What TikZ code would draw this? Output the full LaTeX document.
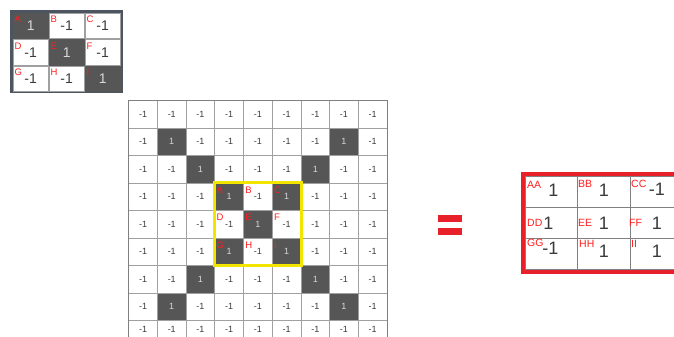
\documentclass[tikz,border=0pt]{standalone}
\usepackage{fontspec}
\setmainfont{Liberation Sans}
\definecolor{gridc}{HTML}{A0A0A0}
\definecolor{darkc}{HTML}{565656}
\definecolor{numc}{HTML}{3A3A3A}
\definecolor{lightc}{HTML}{D8D8D8}
\definecolor{framec}{HTML}{4D5660}
\definecolor{labred}{HTML}{FF1E1E}
\definecolor{eqred}{HTML}{E8202A}
\definecolor{yel}{HTML}{F2E600}
\tikzset{
  gw/.style={draw=gridc, line width=0.8pt, fill=white, minimum width=28.7pt, minimum height=27.5pt,
    inner sep=0pt, anchor=north west, text=numc, font=\fontsize{9}{9}\selectfont},
  gd/.style={gw, fill=darkc, text=lightc},
  sw/.style={draw=gridc, line width=0.4pt, fill=white, minimum width=35pt, minimum height=25pt,
    inner sep=0pt, anchor=north west, text=numc, font=\fontsize{14}{14}\selectfont},
  sd/.style={sw, fill=darkc, draw=darkc, text=lightc},
  lab/.style={text=labred, inner sep=0pt, anchor=north west, font=\fontsize{9.5}{9.5}\selectfont},
  olab/.style={text=labred, inner sep=0pt, anchor=west, font=\fontsize{10.5}{10.5}\selectfont},
  oc/.style={draw=gray, line width=0.8pt, fill=white, inner sep=0pt, anchor=north west, text=numc,
    font=\fontsize{18}{18}\selectfont},
  onum/.style={text=numc, font=\fontsize{18}{18}\selectfont, inner sep=0pt},
}
\begin{document}
\begin{tikzpicture}[x=1pt,y=-1pt]
\useasboundingbox (0,0) rectangle (674,337);
\begin{scope}
\clip (0,0) rectangle (674,337);
% ---------- small matrix ----------
\fill[framec] (10,10) rectangle (123,93);
\foreach \l/\r/\c/\d in {A/0/0/1,B/0/1/0,C/0/2/0,D/1/0/0,E/1/1/1,F/1/2/0,G/2/0/0,H/2/1/0,I/2/2/1}{
  \ifnum\d=1
    \node[sd] (s-\l) at ({13+\c*36},{13+\r*26.5}) {1};
  \else
    \node[sw] (s-\l) at ({13+\c*36},{13+\r*26.5}) {-1};
  \fi
  \node[lab] (sl-\l) at ([xshift=1.5pt,yshift=-3pt]s-\l.north west) {\l};
}
% ---------- large grid ----------
\foreach \r in {0,...,8}{
  \foreach \c in {0,...,8}{
    \pgfmathtruncatemacro\dk{and(and(\r>0,\r<8),or(\c==\r,\c==8-\r))}
    \pgfmathsetmacro\hh{\r==8 ? 17 : 27.5}
    \ifnum\dk=1
      \node[gd, minimum height=\hh pt] (g-\r-\c) at ({128.3+\c*28.7},{100+\r*27.5}) {1};
    \else
      \node[gw, minimum height=\hh pt] (g-\r-\c) at ({128.3+\c*28.7},{100+\r*27.5}) {-1};
    \fi
  }
}
\draw[gray, line width=0.9pt] (g-0-0.north west) -- (g-0-8.north east) -- (g-8-8.south east);
\draw[gray, line width=0.9pt] (g-0-0.north west) -- (g-8-0.south west);
\foreach \l/\r/\c in {A/3/3,B/3/4,C/3/5,D/4/3,E/4/4,F/4/5,G/5/3,H/5/4,I/5/5}{
  \node[lab] (gl-\l) at ([xshift=2pt,yshift=-4pt]g-\r-\c.north west) {\l};
}
\draw[yel, line width=3pt] (g-3-3.north west) rectangle (g-5-5.south east);
% ---------- equals ----------
\fill[eqred] (438,215) rectangle (462,222);
\fill[eqred] (438,228) rectangle (462,235);
% ---------- output matrix ----------
\foreach \l/\r/\w/\x in {AA/0/0/525,BB/0/1/577,CC/0/2/630,
                         DD/1/0/525,EE/1/1/577,FF/1/2/630,
                         GG/2/0/525,HH/2/1/577,II/2/2/630}{
  \pgfmathsetmacro\yy{176+\r*31}
  \pgfmathsetmacro\ww{\w==0 ? 52 : 53}
  \node[oc, minimum width=\ww pt, minimum height=31pt] (o-\l) at (\x,\yy) {};
}
\draw[eqred, line width=4pt] (523,174) rectangle (700,272);
% numbers
\node[onum] (on-AA) at ([xshift=2pt,yshift=2pt]o-AA.center) {1};
\node[onum] (on-BB) at ([xshift=0pt,yshift=2pt]o-BB.center) {1};
\node[onum] (on-CC) at ([xshift=0pt,yshift=3pt]o-CC.center) {-1};
\node[onum] (on-DD) at ([xshift=-3pt,yshift=0pt]o-DD.center) {1};
\node[onum] (on-EE) at ([xshift=0pt,yshift=0pt]o-EE.center) {1};
\node[onum] (on-FF) at ([xshift=0pt,yshift=0pt]o-FF.center) {1};
\node[onum] (on-GG) at ([xshift=-1pt,yshift=6pt]o-GG.center) {-1};
\node[onum] (on-HH) at ([xshift=0pt,yshift=3pt]o-HH.center) {1};
\node[onum] (on-II) at ([xshift=0pt,yshift=3pt]o-II.center) {1};
% labels
\node[olab] (ol-AA) at ([xshift=2pt,yshift=-9pt]o-AA.north west) {AA};
\node[olab] (ol-BB) at ([xshift=1pt,yshift=-8pt]o-BB.north west) {BB};
\node[olab] (ol-CC) at ([xshift=1pt,yshift=-8pt]o-CC.north west) {CC};
\node[olab] (ol-DD) at ([xshift=2pt,yshift=0pt]o-DD.west) {DD};
\node[olab] (ol-EE) at ([xshift=1pt,yshift=0pt]o-EE.west) {EE};
\node[olab] (ol-FF) at ([xshift=-1pt,yshift=0pt]o-FF.west) {FF};
\node[olab] (ol-GG) at ([xshift=2pt,yshift=-5pt]o-GG.north west) {GG};
\node[olab] (ol-HH) at ([xshift=2pt,yshift=-6pt]o-HH.north west) {HH};
\node[olab] (ol-II) at ([xshift=1pt,yshift=-6pt]o-II.north west) {II};
\end{scope}
\end{tikzpicture}
\end{document}
